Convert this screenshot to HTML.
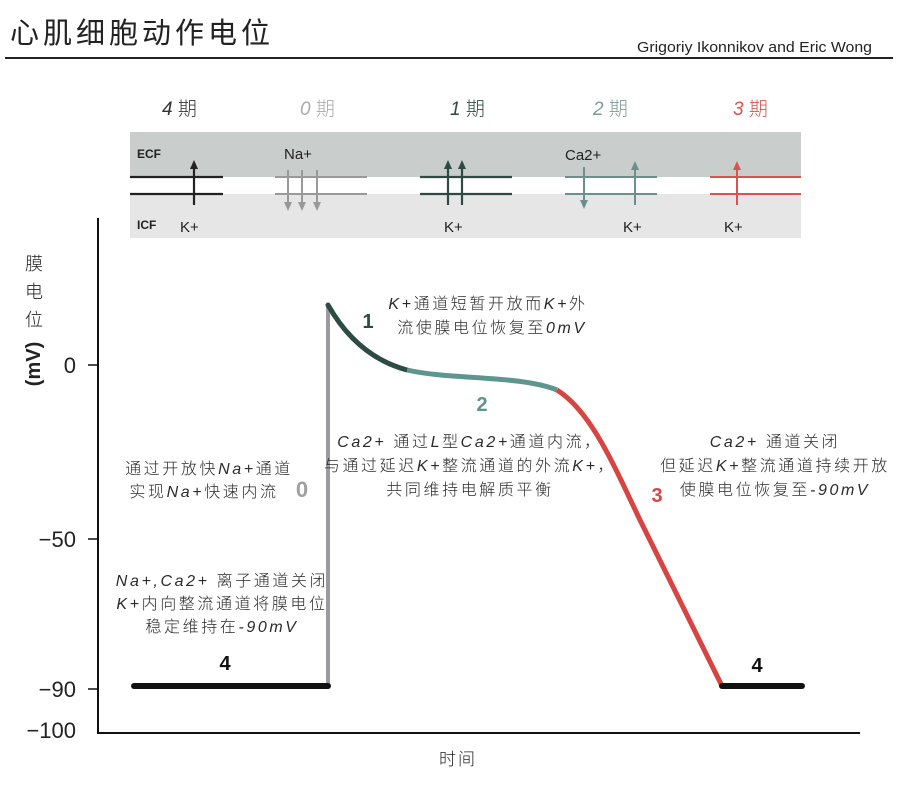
<!DOCTYPE html>
<html><head><meta charset="utf-8"><style>
html,body{margin:0;padding:0;background:#fff;}
svg{display:block;}
text{font-family:"Liberation Sans","Noto Sans CJK SC",sans-serif;}
.cn{font-family:"Liberation Sans","Noto Sans CJK SC",sans-serif;font-weight:300;}
.ann{font-size:16px;fill:#2a2a2a;text-anchor:middle;letter-spacing:2.6px;}
</style></head><body>
<svg width="900" height="789" viewBox="0 0 900 789" xmlns="http://www.w3.org/2000/svg">
<rect width="900" height="789" fill="#fff"/>
<!-- Title -->
<text x="10" y="43" font-size="29" fill="#222" letter-spacing="4" style="font-weight:400">心肌细胞动作电位</text>
<text x="637" y="52" font-size="15" fill="#222" textLength="235" lengthAdjust="spacingAndGlyphs">Grigoriy Ikonnikov and Eric Wong</text>
<line x1="5" y1="58" x2="893" y2="58" stroke="#222" stroke-width="2"/>

<!-- phase labels -->
<g font-size="19" class="cn">
<text x="162" y="115" fill="#333"><tspan font-style="italic">4</tspan> 期</text>
<text x="300" y="115" fill="#aaa"><tspan font-style="italic">0</tspan> 期</text>
<text x="450" y="115" fill="#2d4a43"><tspan font-style="italic">1</tspan> 期</text>
<text x="593" y="115" fill="#7f9c99"><tspan font-style="italic">2</tspan> 期</text>
<text x="733" y="115" fill="#d9534f"><tspan font-style="italic">3</tspan> 期</text>
</g>

<!-- membrane band -->
<rect x="130" y="132" width="671" height="45" fill="#c9cdcc"/>
<rect x="130" y="177" width="671" height="17" fill="#fff"/>
<rect x="130" y="194" width="671" height="44" fill="#e6e6e6"/>
<text x="137" y="158" font-size="12" font-weight="bold" fill="#222">ECF</text>
<text x="137" y="229" font-size="12" font-weight="bold" fill="#222">ICF</text>

<!-- phase 4 channel -->
<g stroke="#222" stroke-width="2.2">
<line x1="130" y1="177" x2="223" y2="177"/><line x1="130" y1="194" x2="223" y2="194"/>
<line x1="194" y1="205" x2="194" y2="168"/>
</g>
<polygon points="194,160 190,169 198,169" fill="#222"/>
<text x="180" y="232" font-size="15" fill="#222">K+</text>

<!-- phase 0 -->
<g stroke="#999" stroke-width="2">
<line x1="275" y1="177" x2="367" y2="177"/><line x1="275" y1="194" x2="367" y2="194"/>
<line x1="288" y1="170" x2="288" y2="203"/><line x1="302" y1="170" x2="302" y2="203"/><line x1="317" y1="170" x2="317" y2="203"/>
</g>
<g fill="#999"><polygon points="288,211 284,202 292,202"/><polygon points="302,211 298,202 306,202"/><polygon points="317,211 313,202 321,202"/></g>
<text x="284" y="159" font-size="15" fill="#222">Na+</text>

<!-- phase 1 -->
<g stroke="#2d4a43" stroke-width="2.2">
<line x1="420" y1="177" x2="512" y2="177"/><line x1="420" y1="194" x2="512" y2="194"/>
<line x1="448" y1="205" x2="448" y2="168"/><line x1="462" y1="205" x2="462" y2="168"/>
</g>
<g fill="#2d4a43"><polygon points="448,160 444,169 452,169"/><polygon points="462,160 458,169 466,169"/></g>
<text x="444" y="232" font-size="15" fill="#222">K+</text>

<!-- phase 2 -->
<g stroke="#6b8f8c" stroke-width="2">
<line x1="565" y1="177" x2="657" y2="177"/><line x1="565" y1="194" x2="657" y2="194"/>
<line x1="584" y1="167" x2="584" y2="201"/><line x1="635" y1="205" x2="635" y2="169"/>
</g>
<g fill="#6b8f8c"><polygon points="584,209 580,200 588,200"/><polygon points="635,161 631,170 639,170"/></g>
<text x="565" y="160" font-size="15" fill="#222">Ca2+</text>
<text x="623" y="232" font-size="15" fill="#222">K+</text>

<!-- phase 3 -->
<g stroke="#d9534f" stroke-width="2">
<line x1="710" y1="177" x2="801" y2="177"/><line x1="710" y1="194" x2="801" y2="194"/>
<line x1="737" y1="205" x2="737" y2="169"/>
</g>
<polygon points="737,161 733,170 741,170" fill="#d9534f"/>
<text x="724" y="232" font-size="15" fill="#222">K+</text>

<!-- axes -->
<line x1="98" y1="218" x2="98" y2="734" stroke="#111" stroke-width="2"/>
<line x1="97" y1="733" x2="860" y2="733" stroke="#111" stroke-width="2"/>
<g stroke="#111" stroke-width="1.5">
<line x1="88" y1="365" x2="98" y2="365"/>
<line x1="88" y1="539" x2="98" y2="539"/>
<line x1="88" y1="689" x2="98" y2="689"/>
</g>
<g font-size="22" fill="#222" text-anchor="end">
<text x="76" y="373">0</text>
<text x="76" y="547">−50</text>
<text x="76" y="697">−90</text>
<text x="76" y="738">−100</text>
</g>
<!-- y label -->
<g class="cn" font-size="18" fill="#222" text-anchor="middle">
<text x="34" y="270">膜</text>
<text x="34" y="298">电</text>
<text x="34" y="326">位</text>
</g>
<text transform="translate(40,364) rotate(-90)" font-size="20" font-weight="bold" fill="#222" text-anchor="middle">(mV)</text>
<text x="458" y="765" class="cn" font-size="17" fill="#222" text-anchor="middle" letter-spacing="2">时间</text>

<!-- curve -->
<line x1="328" y1="686" x2="328" y2="305" stroke="#9b9a9f" stroke-width="4"/>
<line x1="134" y1="686" x2="328" y2="686" stroke="#111" stroke-width="6" stroke-linecap="round"/>
<path d="M328,305 C345,335 370,360 407,370" fill="none" stroke="#2d4a43" stroke-width="5" stroke-linecap="round"/>
<path d="M407,370 C450,380 520,375 557,390" fill="none" stroke="#5e958f" stroke-width="5"/>
<path d="M557,390 C592,412 615,468 640,520 L722,686" fill="none" stroke="#d64541" stroke-width="5" stroke-linejoin="round"/>
<line x1="722" y1="686" x2="802" y2="686" stroke="#111" stroke-width="6" stroke-linecap="round"/>

<!-- phase numbers -->
<text x="368" y="328" font-size="20" font-weight="bold" fill="#2d4a43" text-anchor="middle">1</text>
<text x="482" y="411" font-size="20" font-weight="bold" fill="#5e958f" text-anchor="middle">2</text>
<text x="302" y="497" font-size="22" font-weight="bold" fill="#a0a0a0" text-anchor="middle">0</text>
<text x="657" y="502" font-size="20" font-weight="bold" fill="#d64541" text-anchor="middle">3</text>
<text x="225" y="670" font-size="20" font-weight="bold" fill="#111" text-anchor="middle">4</text>
<text x="757" y="672" font-size="20" font-weight="bold" fill="#111" text-anchor="middle">4</text>

<!-- annotations -->
<g class="cn ann">
<text x="488" y="309"><tspan font-style="italic">K+</tspan>通道短暂开放而<tspan font-style="italic">K+</tspan>外</text>
<text x="492" y="333">流使膜电位恢复至<tspan font-style="italic">0mV</tspan></text>
<text x="470" y="447"><tspan font-style="italic">Ca2+</tspan> 通过<tspan font-style="italic">L</tspan>型<tspan font-style="italic">Ca2+</tspan>通道内流，</text>
<text x="470" y="471">与通过延迟<tspan font-style="italic">K+</tspan>整流通道的外流<tspan font-style="italic">K+</tspan>，</text>
<text x="470" y="495">共同维持电解质平衡</text>
<text x="209" y="474">通过开放快<tspan font-style="italic">Na+</tspan>通道</text>
<text x="204" y="497">实现<tspan font-style="italic">Na+</tspan>快速内流</text>
<text x="222" y="586"><tspan font-style="italic">Na+,Ca2+</tspan> 离子通道关闭</text>
<text x="222" y="609"><tspan font-style="italic">K+</tspan>内向整流通道将膜电位</text>
<text x="222" y="632">稳定维持在<tspan font-style="italic">-90mV</tspan></text>
<text x="775" y="447"><tspan font-style="italic">Ca2+</tspan> 通道关闭</text>
<text x="775" y="471">但延迟<tspan font-style="italic">K+</tspan>整流通道持续开放</text>
<text x="775" y="495">使膜电位恢复至<tspan font-style="italic">-90mV</tspan></text>
</g>
</svg>
</body></html>
